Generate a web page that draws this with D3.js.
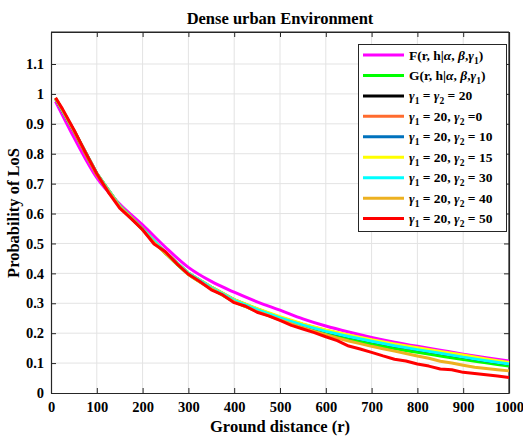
<!DOCTYPE html>
<html><head><meta charset="utf-8">
<script src="https://cdn.jsdelivr.net/npm/d3@7"></script>
<style>
body{margin:0;background:#fff}
text{font-family:"Liberation Serif","Times New Roman",serif;font-weight:bold;fill:#000}
</style>
</head><body><svg id="c" width="523" height="438"></svg>
<script>
// ---- data ----
const rCoarse = [10,50,100,150,200,250,300,350,400,450,500,550,600,650,700,750,800,850,900,950,1000];
const rFine = [10,25,50,75,100,125,150,175,200,225,250,275,300,325,350,375,400,425,450,475,500,525,550,575,600,625,650,675,700,725,750,775,800,825,850,875,900,925,950,975,1000];
const xTicks = [0,100,200,300,400,500,600,700,800,900,1000];
const yTicks = [0,0.1,0.2,0.3,0.4,0.5,0.6,0.7,0.8,0.9,1,1.1];

const seriesF      = [0.975,0.855,0.72,0.632,0.562,0.487,0.42,0.373,0.337,0.305,0.277,0.248,0.224,0.204,0.186,0.17,0.156,0.143,0.13,0.118,0.107];
const seriesG      = [0.985,0.875,0.732,0.624,0.547,0.467,0.397,0.35,0.306,0.274,0.246,0.22,0.198,0.18,0.164,0.149,0.136,0.124,0.112,0.101,0.09];
const seriesEq20   = [0.985,0.877,0.733,0.625,0.548,0.469,0.4,0.352,0.31,0.279,0.251,0.227,0.206,0.189,0.173,0.158,0.145,0.133,0.12,0.108,0.097];
const seriesG2_0   = [0.985,0.877,0.733,0.625,0.549,0.469,0.4,0.353,0.311,0.28,0.252,0.229,0.208,0.191,0.175,0.161,0.148,0.136,0.123,0.111,0.099];
const seriesG2_10  = [0.985,0.877,0.734,0.625,0.548,0.47,0.4,0.354,0.312,0.281,0.253,0.229,0.209,0.192,0.176,0.162,0.149,0.137,0.125,0.112,0.1];
const seriesG2_15  = [0.986,0.878,0.734,0.626,0.549,0.47,0.401,0.354,0.312,0.282,0.255,0.231,0.211,0.194,0.178,0.164,0.151,0.139,0.127,0.114,0.102];
const seriesG2_30  = [0.985,0.877,0.733,0.625,0.548,0.469,0.4,0.352,0.31,0.279,0.251,0.227,0.206,0.189,0.173,0.158,0.145,0.133,0.12,0.108,0.097];
const seriesG2_40  = [0.985,0.946,0.876,0.801,0.73,0.676,0.622,0.586,0.545,0.503,0.467,0.432,0.396,0.371,0.348,0.327,0.305,0.289,0.272,0.259,0.244,0.231,0.218,0.206,0.195,0.184,0.174,0.165,0.156,0.148,0.14,0.132,0.124,0.116,0.106,0.1,0.093,0.086,0.082,0.078,0.074];
const seriesG2_50  = [0.987,0.95,0.88,0.805,0.733,0.672,0.618,0.583,0.546,0.498,0.472,0.432,0.397,0.373,0.345,0.328,0.302,0.29,0.27,0.258,0.243,0.226,0.214,0.202,0.188,0.175,0.157,0.147,0.136,0.124,0.113,0.107,0.097,0.09,0.08,0.078,0.069,0.065,0.061,0.057,0.052];

const colors = ["#ff00ff","#00ff00","#000000","#ff6b2e","#0072bd","#ffff00","#00ffff","#edb120","#ff0000"];
const seriesList = [
  {r:rCoarse, v:seriesF,     smooth:true},
  {r:rCoarse, v:seriesG,     smooth:true},
  {r:rCoarse, v:seriesEq20,  smooth:false},
  {r:rCoarse, v:seriesG2_0,  smooth:false},
  {r:rCoarse, v:seriesG2_10, smooth:false},
  {r:rCoarse, v:seriesG2_15, smooth:false},
  {r:rCoarse, v:seriesG2_30, smooth:false},
  {r:rFine,   v:seriesG2_40, smooth:false},
  {r:rFine,   v:seriesG2_50, smooth:false}
];
// legend labels: segments [text, kind] kind: n normal, i italic, s subscript
const legendLabels = [
  [["F(r, h|","n"],["α","i"],[", ","n"],["β","i"],[",","n"],["γ","i"],["1","s"],[")","n"]],
  [["G(r, h|","n"],["α","i"],[", ","n"],["β","i"],[",","n"],["γ","i"],["1","s"],[")","n"]],
  [["γ","i"],["1","s"],[" = ","n"],["γ","i"],["2","s"],[" = 20","n"]],
  [["γ","i"],["1","s"],[" = 20, ","n"],["γ","i"],["2","s"],[" =0","n"]],
  [["γ","i"],["1","s"],[" = 20, ","n"],["γ","i"],["2","s"],[" = 10","n"]],
  [["γ","i"],["1","s"],[" = 20, ","n"],["γ","i"],["2","s"],[" = 15","n"]],
  [["γ","i"],["1","s"],[" = 20, ","n"],["γ","i"],["2","s"],[" = 30","n"]],
  [["γ","i"],["1","s"],[" = 20, ","n"],["γ","i"],["2","s"],[" = 40","n"]],
  [["γ","i"],["1","s"],[" = 20, ","n"],["γ","i"],["2","s"],[" = 50","n"]]
];

// ---- layout ----
const svg = d3.select("#c");
const L=51, R=509, T=32, B=393;
const x = d3.scaleLinear().domain([0,1000]).range([L,R]);
const y = d3.scaleLinear().domain([0,1.207]).range([B,T]);

// grid
const grid = svg.append("g");
grid.selectAll("line.v").data(xTicks.slice(1,-1)).enter().append("line")
  .attr("x1",d=>x(d)).attr("x2",d=>x(d)).attr("y1",T).attr("y2",B)
  .attr("stroke","#e3e3e3").attr("stroke-width",1);
grid.selectAll("line.h").data(yTicks.slice(1)).enter().append("line")
  .attr("x1",L).attr("x2",R).attr("y1",d=>y(d)).attr("y2",d=>y(d))
  .attr("stroke","#e3e3e3").attr("stroke-width",1);

// axes
const fmt = d=>d3.format("~g")(d);
const ax = svg.append("g").attr("transform",`translate(0,${B})`)
  .call(d3.axisBottom(x).tickValues(xTicks).tickSize(-5).tickSizeOuter(0).tickPadding(9).tickFormat(fmt));
const axT = svg.append("g").attr("transform",`translate(0,${T})`)
  .call(d3.axisTop(x).tickValues(xTicks).tickSize(-5).tickSizeOuter(0).tickFormat(""));
const ay = svg.append("g").attr("transform",`translate(${L},0)`)
  .call(d3.axisLeft(y).tickValues(yTicks).tickSize(-5).tickSizeOuter(0).tickPadding(7).tickFormat(fmt));
const ayR = svg.append("g").attr("transform",`translate(${R},0)`)
  .call(d3.axisRight(y).tickValues(yTicks).tickSize(-5).tickSizeOuter(0).tickFormat(""));
[ax,axT,ay,ayR].forEach(g=>{
  g.selectAll("path.domain").attr("stroke","#262626").attr("stroke-width",1.2);
  g.selectAll(".tick line").attr("stroke","#262626");
  g.selectAll("text").style("font-family",'"Liberation Serif","Times New Roman",serif')
    .style("font-weight","bold").style("font-size","14.5px").attr("fill","#000");
});
// top/right edges of box
svg.append("line").attr("x1",L).attr("x2",R).attr("y1",T).attr("y2",T).attr("stroke","#262626").attr("stroke-width",1.2);
svg.append("line").attr("x1",R).attr("x2",R).attr("y1",T).attr("y2",B).attr("stroke","#262626").attr("stroke-width",1.2);

// lines
const plot = svg.append("g");
seriesList.forEach((s,i)=>{
  const pts = s.r.map((r,j)=>[r,s.v[j]]);
  const line = d3.line().x(d=>x(d[0])).y(d=>y(d[1]))
    .curve(s.smooth ? d3.curveMonotoneX : d3.curveLinear);
  plot.append("path").datum(pts).attr("d",line)
    .attr("fill","none").attr("stroke",colors[i]).attr("stroke-width",3)
    .attr("stroke-linejoin","round");
});

// title & labels
svg.append("text").attr("x",280).attr("y",24).attr("text-anchor","middle")
  .style("font-size","16.5px").text("Dense urban Environment");
svg.append("text").attr("x",280).attr("y",432).attr("text-anchor","middle")
  .style("font-size","16.5px").text("Ground distance (r)");
svg.append("text").attr("transform","translate(19,213) rotate(-90)").attr("text-anchor","middle")
  .style("font-size","16.5px").text("Probability of LoS");

// legend
const lg = svg.append("g");
lg.append("rect").attr("x",358.5).attr("y",44.5).attr("width",148).attr("height",187)
  .attr("fill","#fff").attr("stroke","#262626").attr("stroke-width",1);
legendLabels.forEach((segs,i)=>{
  const cy = 55 + i*20.45;
  lg.append("line").attr("x1",363).attr("x2",404).attr("y1",cy).attr("y2",cy)
    .attr("stroke",colors[i]).attr("stroke-width",3);
  const t = lg.append("text").attr("x",409).attr("y",cy+4.5).style("font-size","13.5px");
  let shift = 0;
  segs.forEach(([txt,kind])=>{
    const sp = t.append("tspan").text(txt);
    if(kind==="i") sp.style("font-style","italic");
    if(kind==="s"){ sp.attr("dy",4-shift).style("font-size","9.5px"); shift=4; }
    else if(shift!==0){ sp.attr("dy",-shift); shift=0; }
  });
});
</script>
</body></html>
